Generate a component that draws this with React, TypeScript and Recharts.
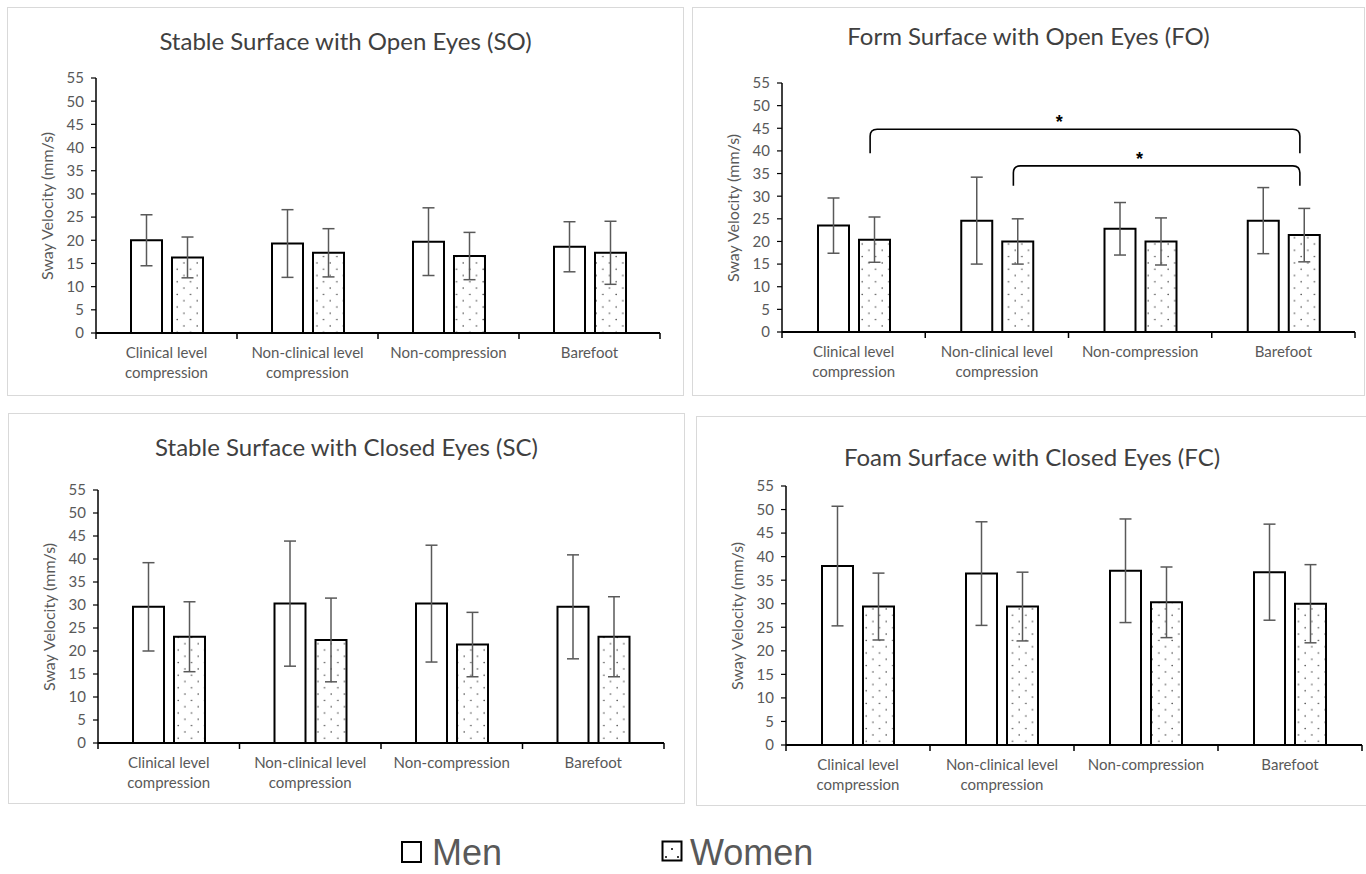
import React from 'react';
import { BarChart, Bar, XAxis, YAxis, ErrorBar, ReferenceLine } from 'recharts';

const CATEGORIES = ['Clinical level compression', 'Non-clinical level compression', 'Non-compression', 'Barefoot'];
const CATEGORY_LINES = [['Clinical level', 'compression'], ['Non-clinical level', 'compression'], ['Non-compression'], ['Barefoot']];
const Y_TICKS = [0, 5, 10, 15, 20, 25, 30, 35, 40, 45, 50, 55];
const BOUNDARY_TICKS = [0, 1, 2, 3, 4];

const SO_MEN = [20.0, 19.3, 19.7, 18.6];
const SO_MEN_SD = [5.5, 7.3, 7.3, 5.4];
const SO_WOMEN = [16.3, 17.3, 16.6, 17.3];
const SO_WOMEN_SD = [4.4, 5.2, 5.1, 6.8];

const FO_MEN = [23.5, 24.6, 22.8, 24.6];
const FO_MEN_SD = [6.1, 9.6, 5.8, 7.3];
const FO_WOMEN = [20.4, 20.0, 20.0, 21.4];
const FO_WOMEN_SD = [5.0, 5.0, 5.2, 5.9];

const SC_MEN = [29.6, 30.3, 30.3, 29.6];
const SC_MEN_SD = [9.6, 13.6, 12.7, 11.3];
const SC_WOMEN = [23.1, 22.4, 21.4, 23.1];
const SC_WOMEN_SD = [7.6, 9.1, 7.0, 8.7];

const FC_MEN = [38.0, 36.4, 37.0, 36.7];
const FC_MEN_SD = [12.7, 11.0, 11.0, 10.2];
const FC_WOMEN = [29.4, 29.4, 30.3, 30.0];
const FC_WOMEN_SD = [7.1, 7.3, 7.5, 8.3];

// significance brackets on the FO panel: from/to category, top of bracket, end of legs
const FO_BRACKETS = [
  { from: CATEGORIES[0], to: CATEGORIES[3], top: 44.8, end: 39.5 },
  { from: CATEGORIES[1], to: CATEGORIES[3], top: 36.7, end: 32.3 },
];

const FONT = 'Lato, "Open Sans", sans-serif';
const TEXT = '#595959';
const BAR_SIZE = 31;
const BAR_GAP = 10;
const Y_AXIS_W = 60;
const BOUNDS_H = 1;
const CAT_H = 50;

const buildRows = (men: number[], menSd: number[], women: number[], womenSd: number[]) =>
  CATEGORIES.map((name, i) => ({
    name,
    idx: i + 0.5,
    men: men[i],
    menSd: menSd[i],
    women: women[i],
    womenSd: womenSd[i],
  }));

const PANELS = [
  {
    title: 'Stable Surface with Open Eyes (SO)',
    rows: buildRows(SO_MEN, SO_MEN_SD, SO_WOMEN, SO_WOMEN_SD),
    box: { left: 7, top: 7, width: 677, height: 389 },
    plot: { left: 96, top: 78, right: 660, bottom: 333 },
    titleY: 41,
    brackets: [] as typeof FO_BRACKETS,
  },
  {
    title: 'Form Surface with Open Eyes (FO)',
    rows: buildRows(FO_MEN, FO_MEN_SD, FO_WOMEN, FO_WOMEN_SD),
    box: { left: 692, top: 7, width: 673, height: 389 },
    plot: { left: 782, top: 83, right: 1355, bottom: 332 },
    titleY: 36,
    brackets: FO_BRACKETS,
  },
  {
    title: 'Stable Surface with Closed Eyes (SC)',
    rows: buildRows(SC_MEN, SC_MEN_SD, SC_WOMEN, SC_WOMEN_SD),
    box: { left: 8, top: 413, width: 677, height: 391 },
    plot: { left: 98, top: 490, right: 664, bottom: 743 },
    titleY: 447,
    brackets: [] as typeof FO_BRACKETS,
  },
  {
    title: 'Foam Surface with Closed Eyes (FC)',
    rows: buildRows(FC_MEN, FC_MEN_SD, FC_WOMEN, FC_WOMEN_SD),
    box: { left: 696, top: 416, width: 672, height: 390 },
    plot: { left: 786, top: 486, right: 1362, bottom: 745 },
    titleY: 457,
    brackets: [] as typeof FO_BRACKETS,
  },
];

const CategoryTick = (props: any) => {
  const { x, y, payload } = props;
  const i = CATEGORIES.indexOf(payload.value);
  const lines = CATEGORY_LINES[i] ?? [payload.value];
  return (
    <text x={x} y={y} textAnchor="middle" fill={TEXT} fontSize={15} fontFamily={FONT}>
      {lines.map((line, k) => (
        <tspan key={k} x={x} dy={k === 0 ? '0.75em' : 20}>
          {line}
        </tspan>
      ))}
    </text>
  );
};

const EmptyTick = () => <g />;

// women bar centre sits right of the category centre
const WOMEN_OFFSET = BAR_GAP / 2 + BAR_SIZE / 2 - 4;

const BracketShape = (props: any) => {
  const { x1, y1, x2, y2 } = props;
  const l = x1 + WOMEN_OFFSET;
  const r = x2 + WOMEN_OFFSET;
  const top = y1;
  const end = y2;
  const rad = 7;
  const d = `M ${l} ${end} L ${l} ${top + rad} Q ${l} ${top} ${l + rad} ${top} L ${r - rad} ${top} Q ${r} ${top} ${r} ${top + rad} L ${r} ${end}`;
  return (
    <g>
      <path d={d} fill="none" stroke="#000" strokeWidth={1.6} />
      <text x={l + (r - l) * 0.44} y={top - 1} textAnchor="middle" fontSize={18} fontWeight="bold" fontFamily="'Liberation Sans', Arial" fill="#000">
        *
      </text>
    </g>
  );
};

function Panel({ panel }: { panel: (typeof PANELS)[number] }) {
  const { box, plot } = panel;
  const innerW = box.width - 2;
  const innerH = box.height - 2;
  const cx = box.left + 1;
  const cy = box.top + 1;
  const margin = {
    left: plot.left - cx - Y_AXIS_W,
    top: plot.top - cy,
    right: cx + innerW - plot.right,
    bottom: cy + innerH - plot.bottom - BOUNDS_H - CAT_H,
  };
  return (
    <div
      style={{
        position: 'absolute',
        left: box.left,
        top: box.top,
        width: innerW,
        height: innerH,
        border: '1px solid #d9d9d9',
        background: '#fff',
      }}
    >
      <div
        style={{
          position: 'absolute',
          left: 0,
          width: innerW,
          top: panel.titleY - cy - 16,
          height: 32,
          lineHeight: '32px',
          textAlign: 'center',
          fontFamily: FONT,
          fontSize: 24,
          color: '#404040',
        }}
      >
        {panel.title}
      </div>
      <div
        style={{
          position: 'absolute',
          left: plot.left - cx - 49 - 100,
          top: (plot.top + plot.bottom) / 2 - cy - 10,
          width: 200,
          height: 20,
          lineHeight: '20px',
          textAlign: 'center',
          transform: 'rotate(-90deg)',
          fontFamily: FONT,
          fontSize: 16,
          color: TEXT,
          whiteSpace: 'nowrap',
        }}
      >
        Sway Velocity (mm/s)
      </div>
      <div style={{ position: 'absolute', left: 0, top: 0 }}>
        <BarChart width={innerW} height={innerH} data={panel.rows} margin={margin} barGap={BAR_GAP} barSize={BAR_SIZE}>
          <XAxis
            xAxisId="bounds"
            dataKey="idx"
            type="number"
            domain={[0, 4]}
            ticks={BOUNDARY_TICKS}
            allowDataOverflow
            height={BOUNDS_H}
            tick={EmptyTick}
            tickSize={6}
            tickLine={{ stroke: '#000', strokeWidth: 1.5 }}
            axisLine={{ stroke: '#000', strokeWidth: 2 }}
          />
          <XAxis
            xAxisId="cat"
            dataKey="name"
            height={CAT_H}
            axisLine={false}
            tickLine={false}
            tickSize={6}
            tickMargin={7}
            interval={0}
            tick={CategoryTick}
          />
          <YAxis
            domain={[0, 55]}
            ticks={Y_TICKS}
            interval={0}
            width={Y_AXIS_W}
            tickSize={5}
            tickMargin={7}
            axisLine={{ stroke: '#000', strokeWidth: 1.5 }}
            tickLine={{ stroke: '#000', strokeWidth: 1.2 }}
            tick={{ fill: TEXT, fontSize: 15, fontFamily: FONT }}
          />
          <Bar xAxisId="cat" dataKey="men" fill="#fff" stroke="#000" strokeWidth={2} isAnimationActive={false}>
            <ErrorBar dataKey="menSd" width={6} stroke={TEXT} strokeWidth={1.5} />
          </Bar>
          <Bar xAxisId="cat" dataKey="women" fill="url(#dots)" stroke="#000" strokeWidth={2} isAnimationActive={false}>
            <ErrorBar dataKey="womenSd" width={6} stroke={TEXT} strokeWidth={1.5} />
          </Bar>
          {panel.brackets.map((b, i) => (
            <ReferenceLine
              key={i}
              xAxisId="cat"
              segment={[
                { x: b.from, y: b.top },
                { x: b.to, y: b.end },
              ]}
              shape={BracketShape}
            />
          ))}
        </BarChart>
      </div>
    </div>
  );
}

export default function App() {
  return (
    <div style={{ position: 'absolute', left: 0, top: 0, width: 1366, height: 874, background: '#fff', overflow: 'hidden' }}>
      <svg width={0} height={0} style={{ position: 'absolute' }}>
        <defs>
          <pattern id="dots" patternUnits="userSpaceOnUse" width={13.3} height={12.6}>
            <rect width={13.3} height={12.6} fill="#fff" />
            <circle cx={3} cy={3} r={0.75} fill="#333" />
            <circle cx={9.65} cy={9.3} r={0.75} fill="#333" />
          </pattern>
        </defs>
      </svg>
      {PANELS.map((p) => (
        <Panel key={p.title} panel={p} />
      ))}
      <div style={{ position: 'absolute', left: 401, top: 841, width: 17, height: 18, border: '2px solid #000', background: '#fff' }} />
      <div style={{ position: 'absolute', left: 432, top: 832, height: 42, lineHeight: '42px', fontFamily: "'Liberation Sans', Arial, sans-serif", fontSize: 36, color: TEXT }}>
        Men
      </div>
      <svg style={{ position: 'absolute', left: 661, top: 840 }} width={24} height={24}>
        <rect x={1.5} y={1.5} width={19} height={19} fill="#fff" stroke="#000" strokeWidth={2} />
        <circle cx={11} cy={9} r={1} fill="#000" />
        <circle cx={5} cy={17} r={1} fill="#000" />
        <circle cx={17} cy={17} r={1} fill="#000" />
      </svg>
      <div style={{ position: 'absolute', left: 690, top: 832, height: 42, lineHeight: '42px', fontFamily: "'Liberation Sans', Arial, sans-serif", fontSize: 36, color: TEXT }}>
        Women
      </div>
    </div>
  );
}
